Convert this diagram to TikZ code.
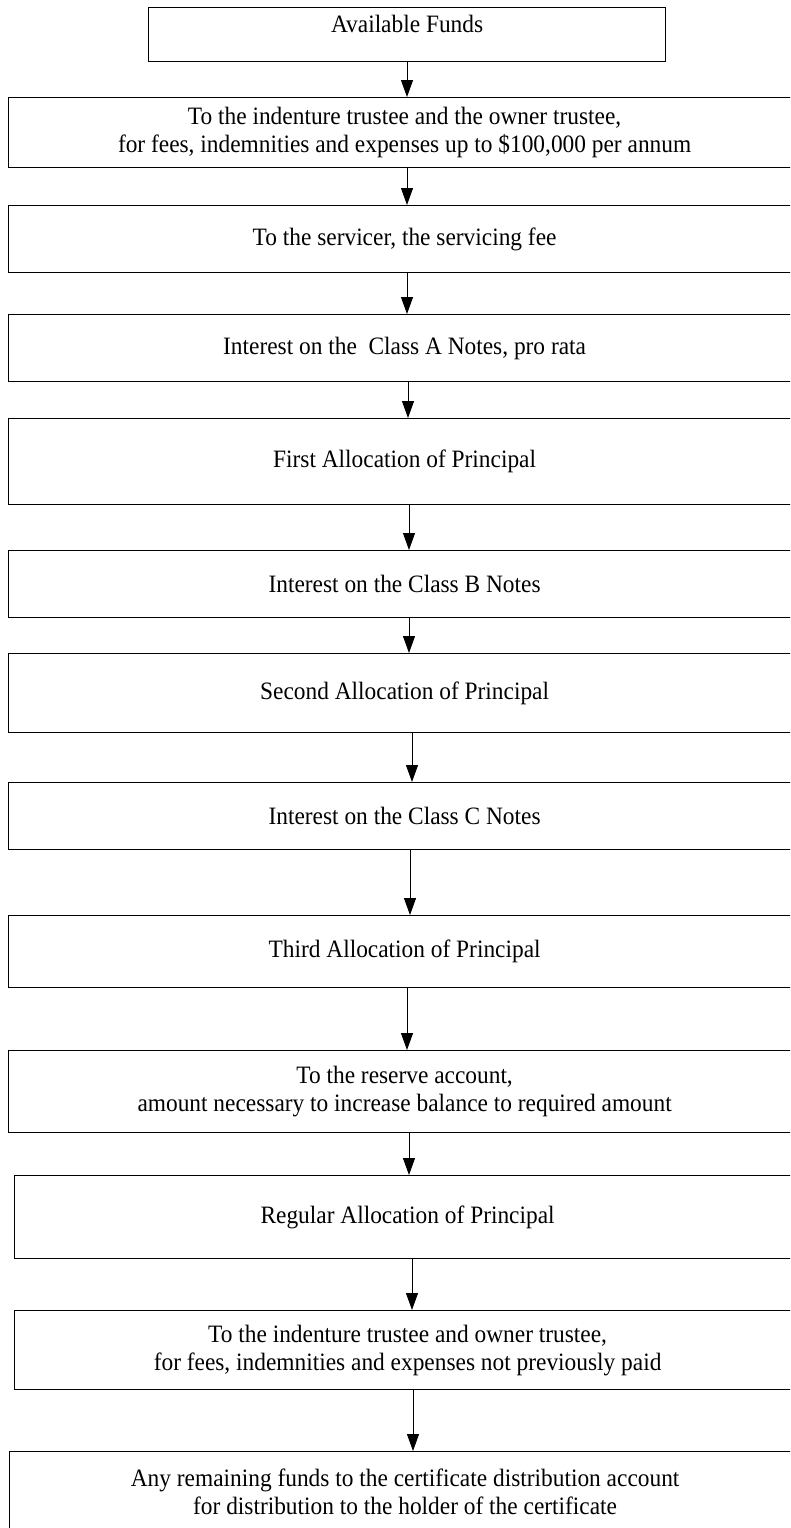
\documentclass[tikz,border=0pt]{standalone}
\usepackage{fontspec}
\setmainfont{Liberation Serif}[FakeStretch=0.935]
\usetikzlibrary{arrows.meta}

\tikzset{
  stepbox/.style={draw, line width=1.2pt, anchor=north west, inner sep=0pt,
    align=center, font=\fontsize{25}{28}\selectfont},
  flow/.style={-{Triangle[length=17pt,width=12pt]}, line width=1pt}
}

\begin{document}
\begin{tikzpicture}[x=1pt, y=-1pt]

  \useasboundingbox (0,0) rectangle (790,1528);
  \clip (0,0) rectangle (790,1528);

  % Start
  \node[stepbox, minimum width=517pt, text height=25pt, text depth=29pt] (avail) at (148,7) {Available Funds};

  % Trustee fees
  \node[stepbox, minimum width=792pt, minimum height=70pt] (fees) at (8,97)
    {To the indenture trustee and the owner trustee,\\ for fees, indemnities and expenses up to \$100,000 per annum};

  % Servicing fee
  \node[stepbox, minimum width=792pt, minimum height=67pt] (servicer) at (8,205) {To the servicer, the servicing fee};

  % Interest, Class A
  \node[stepbox, minimum width=792pt, minimum height=67pt] (classA) at (8,314) {Interest on the \ Class A Notes, pro rata};

  % First principal
  \node[stepbox, minimum width=792pt, minimum height=86pt] (firstalloc) at (8,418) {First Allocation of Principal};

  % Interest, Class B
  \node[stepbox, minimum width=792pt, minimum height=67pt] (classB) at (8,550) {Interest on the Class B Notes};

  % Second principal
  \node[stepbox, minimum width=792pt, minimum height=79pt] (secondalloc) at (8,653) {Second Allocation of Principal};

  % Interest, Class C
  \node[stepbox, minimum width=792pt, minimum height=67pt] (classC) at (8,782) {Interest on the Class C Notes};

  % Third principal
  \node[stepbox, minimum width=792pt, minimum height=72pt] (thirdalloc) at (8,915) {Third Allocation of Principal};

  % Reserve account
  \node[stepbox, minimum width=792pt, minimum height=82pt] (reserve) at (8,1050)
    {To the reserve account,\\ amount necessary to increase balance to required amount};

  % Regular principal
  \node[stepbox, minimum width=786pt, minimum height=83pt] (regular) at (14,1175) {Regular Allocation of Principal};

  % Unpaid trustee fees
  \node[stepbox, minimum width=786pt, minimum height=79pt] (unpaid) at (14,1310)
    {To the indenture trustee and owner trustee,\\ for fees, indemnities and expenses not previously paid};

  % Remainder
  \node[stepbox, minimum width=791pt, minimum height=81pt] (remaining) at (9,1451)
    {Any remaining funds to the certificate distribution account\\ for distribution to the holder of the certificate};

  % Flow arrows
  \draw[flow] (avail.south -| 407,0) -- (fees.north -| 407,0);
  \draw[flow] (fees.south -| 407,0) -- (servicer.north -| 407,0);
  \draw[flow] (servicer.south -| 407,0) -- (classA.north -| 407,0);
  \draw[flow] (classA.south -| 408,0) -- (firstalloc.north -| 408,0);
  \draw[flow] (firstalloc.south -| 409,0) -- (classB.north -| 409,0);
  \draw[flow] (classB.south -| 409,0) -- (secondalloc.north -| 409,0);
  \draw[flow] (secondalloc.south -| 412,0) -- (classC.north -| 412,0);
  \draw[flow] (classC.south -| 410,0) -- (thirdalloc.north -| 410,0);
  \draw[flow] (thirdalloc.south -| 407,0) -- (reserve.north -| 407,0);
  \draw[flow] (reserve.south -| 409,0) -- (regular.north -| 409,0);
  \draw[flow] (regular.south -| 412,0) -- (unpaid.north -| 412,0);
  \draw[flow] (unpaid.south -| 413,0) -- (remaining.north -| 413,0);

\end{tikzpicture}
\end{document}
